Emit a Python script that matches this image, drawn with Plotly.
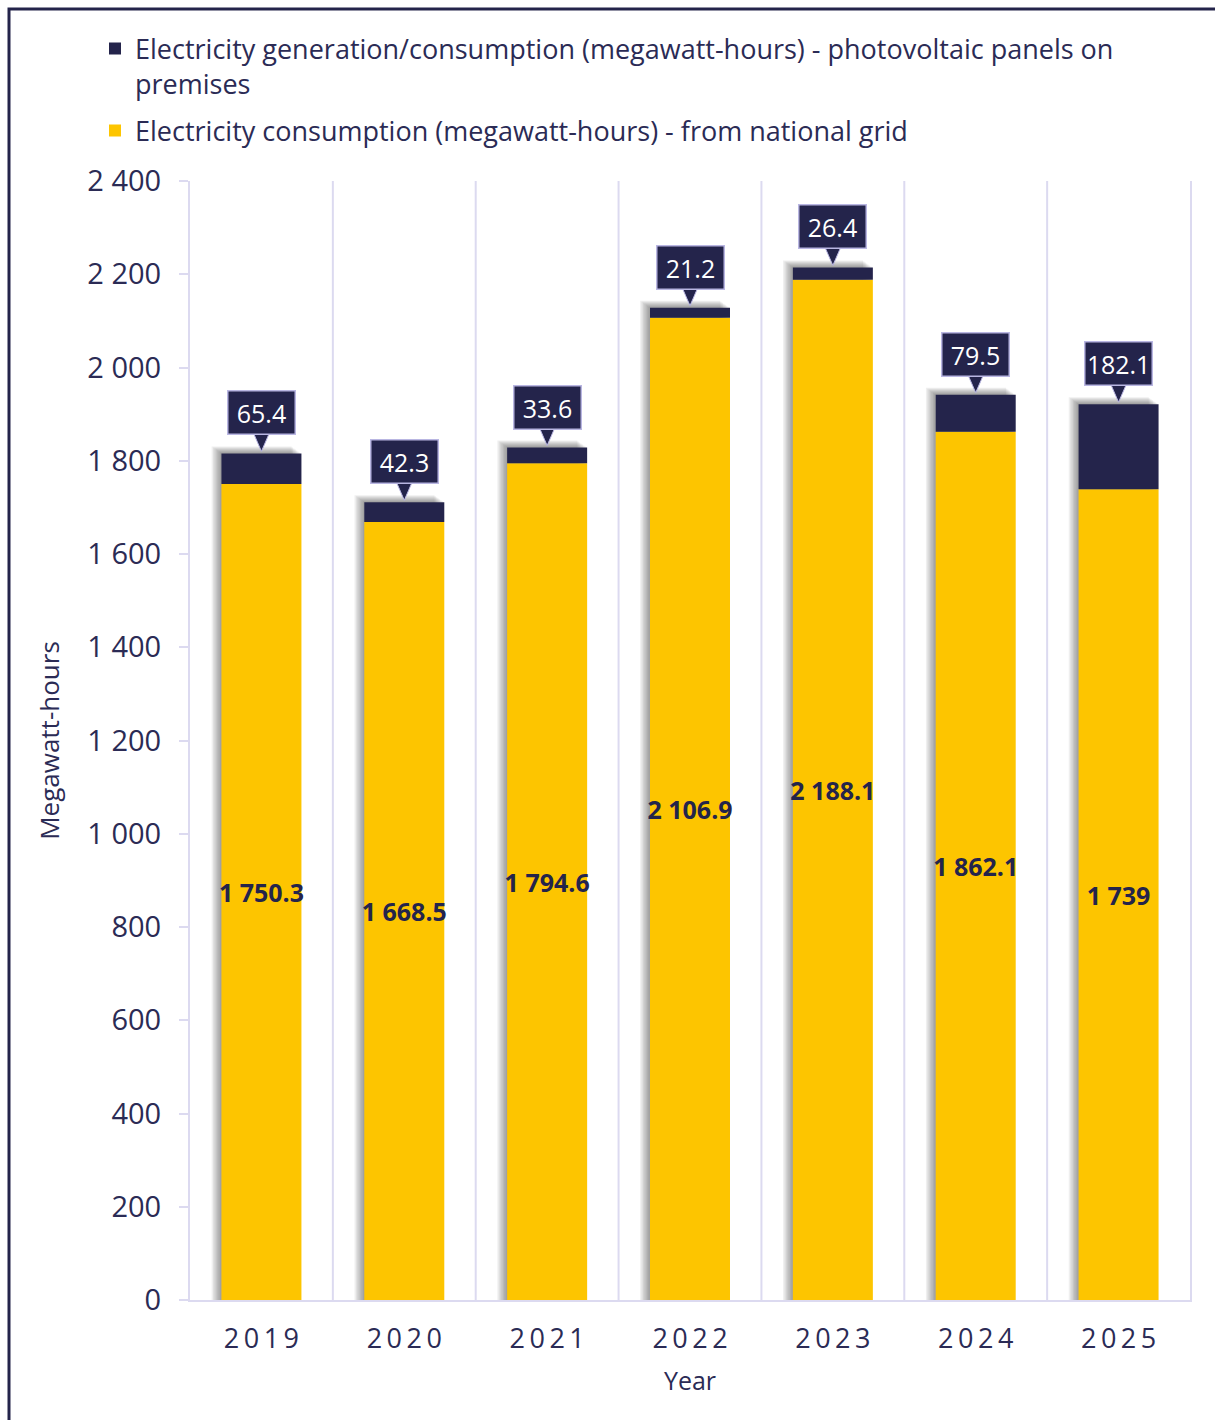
import plotly.graph_objects as go

# Annual electricity figures (megawatt-hours)
years = [2019, 2020, 2021, 2022, 2023, 2024, 2025]
grid_mwh = [1750.3, 1668.5, 1794.6, 2106.9, 2188.1, 1862.1, 1739.0]
solar_mwh = [65.4, 42.3, 33.6, 21.2, 26.4, 79.5, 182.1]
y_ticks = [0, 200, 400, 600, 800, 1000, 1200, 1400, 1600, 1800, 2000, 2200, 2400]

NAVY = "#24244b"
YELLOW = "#fdc500"
TEXT = "#2b2b55"
LAVENDER = "#dcdaf0"
CALLOUT_EDGE = "#b9b6e2"
FONT = "Open Sans"

totals = [g + s for g, s in zip(grid_mwh, solar_mwh)]

BAR_W = 0.56
PX_PER_CAT = 1000 / 7.0
PX_PER_UNIT = 1119 / 2400.0

fig = go.Figure()

# soft drop shadow to the upper left of each bar
for k in range(1, 8):
    fig.add_trace(go.Bar(
        x=years, y=[t + 1.0 * k / PX_PER_UNIT for t in totals], base=0,
        width=BAR_W, offset=-BAR_W / 2 - 1.4 * k / PX_PER_CAT,
        marker=dict(color="rgba(30,30,30,0.07)", line=dict(width=0)),
        showlegend=False, hoverinfo="skip",
    ))

fig.add_trace(go.Bar(
    x=years, y=grid_mwh, base=0, width=BAR_W, offset=-BAR_W / 2,
    name="Electricity consumption (megawatt-hours) - from national grid",
    marker=dict(color=YELLOW, line=dict(width=0)),
    text=grid_mwh, texttemplate="%{y:,}", textposition="inside",
    insidetextanchor="middle", constraintext="none", textangle=0,
    textfont=dict(family=FONT, size=25, color=NAVY, weight="bold"),
    legendgroup="grid", legendrank=2,
))
fig.add_trace(go.Bar(
    x=years, y=solar_mwh, base=grid_mwh, width=BAR_W, offset=-BAR_W / 2,
    name="Electricity generation/consumption (megawatt-hours) - photovoltaic panels on<br>premises",
    marker=dict(color=NAVY, line=dict(width=0)),
    legendgroup="solar", legendrank=1,
))

# callout boxes with pointers for the photovoltaic values
for yr, s, t in zip(years, solar_mwh, totals):
    fig.add_annotation(
        x=yr, y=t, yanchor="bottom", yshift=18, showarrow=False,
        text=f"{s:g}", font=dict(family=FONT, size=25, color="white"),
        width=58, align="center",
        bgcolor=NAVY, bordercolor=CALLOUT_EDGE, borderwidth=1.5, borderpad=4,
    )
    fig.add_shape(
        type="path", xref="x", yref="y", xsizemode="pixel", ysizemode="pixel",
        xanchor=yr, yanchor=t, path="M -8,20.5 L 8,20.5 L 0,2 Z",
        fillcolor=NAVY, line=dict(color=CALLOUT_EDGE, width=1),
    )

# vertical separators between years
for yr in years[:-1]:
    fig.add_shape(type="line", xref="x", yref="paper", x0=yr + 0.5, x1=yr + 0.5,
                  y0=0, y1=1, line=dict(color=LAVENDER, width=2), layer="below")

# page frame (left and top edges)
fig.add_shape(type="path", xref="paper", yref="paper",
              path="M -0.181,-0.2 L -0.181,1.1537 L 1.2,1.1537",
              line=dict(color=NAVY, width=3))

fig.update_layout(
    width=1215, height=1420,
    margin=dict(l=190, r=25, t=181, b=120, autoexpand=False),
    barmode="overlay",
    separators=". ",
    plot_bgcolor="white", paper_bgcolor="white",
    font=dict(family=FONT, color=TEXT),
    legend=dict(
        x=-0.095, y=1.140,
        xanchor="left", yanchor="top", traceorder="grouped",
        valign="top", tracegroupgap=9, itemwidth=30,
        font=dict(family=FONT, size=27, color=TEXT),
        bgcolor="rgba(0,0,0,0)",
    ),
    xaxis=dict(
        range=[2018.5, 2025.5], tickvals=years,
        ticktext=["\u2009".join(str(y)) for y in years],
        tickfont=dict(family=FONT, size=27, color=TEXT),
        showgrid=False, zeroline=False, ticks="",
        showline=True, linecolor=LAVENDER, linewidth=2,
        ticklabelstandoff=14,
        title=dict(text="Year", font=dict(family=FONT, size=25, color=TEXT), standoff=17),
    ),
    yaxis=dict(
        range=[0, 2400], tickvals=y_ticks, tickformat=",d",
        tickfont=dict(family=FONT, size=29, color=TEXT),
        showgrid=False, zeroline=False,
        ticks="outside", ticklen=9, tickwidth=2, tickcolor=LAVENDER,
        showline=True, linecolor=LAVENDER, linewidth=2, mirror=True,
        ticklabelstandoff=12,
        title=dict(text="Megawatt-hours", font=dict(family=FONT, size=26, color=TEXT), standoff=20),
    ),
)

fig.write_html("out.html")
